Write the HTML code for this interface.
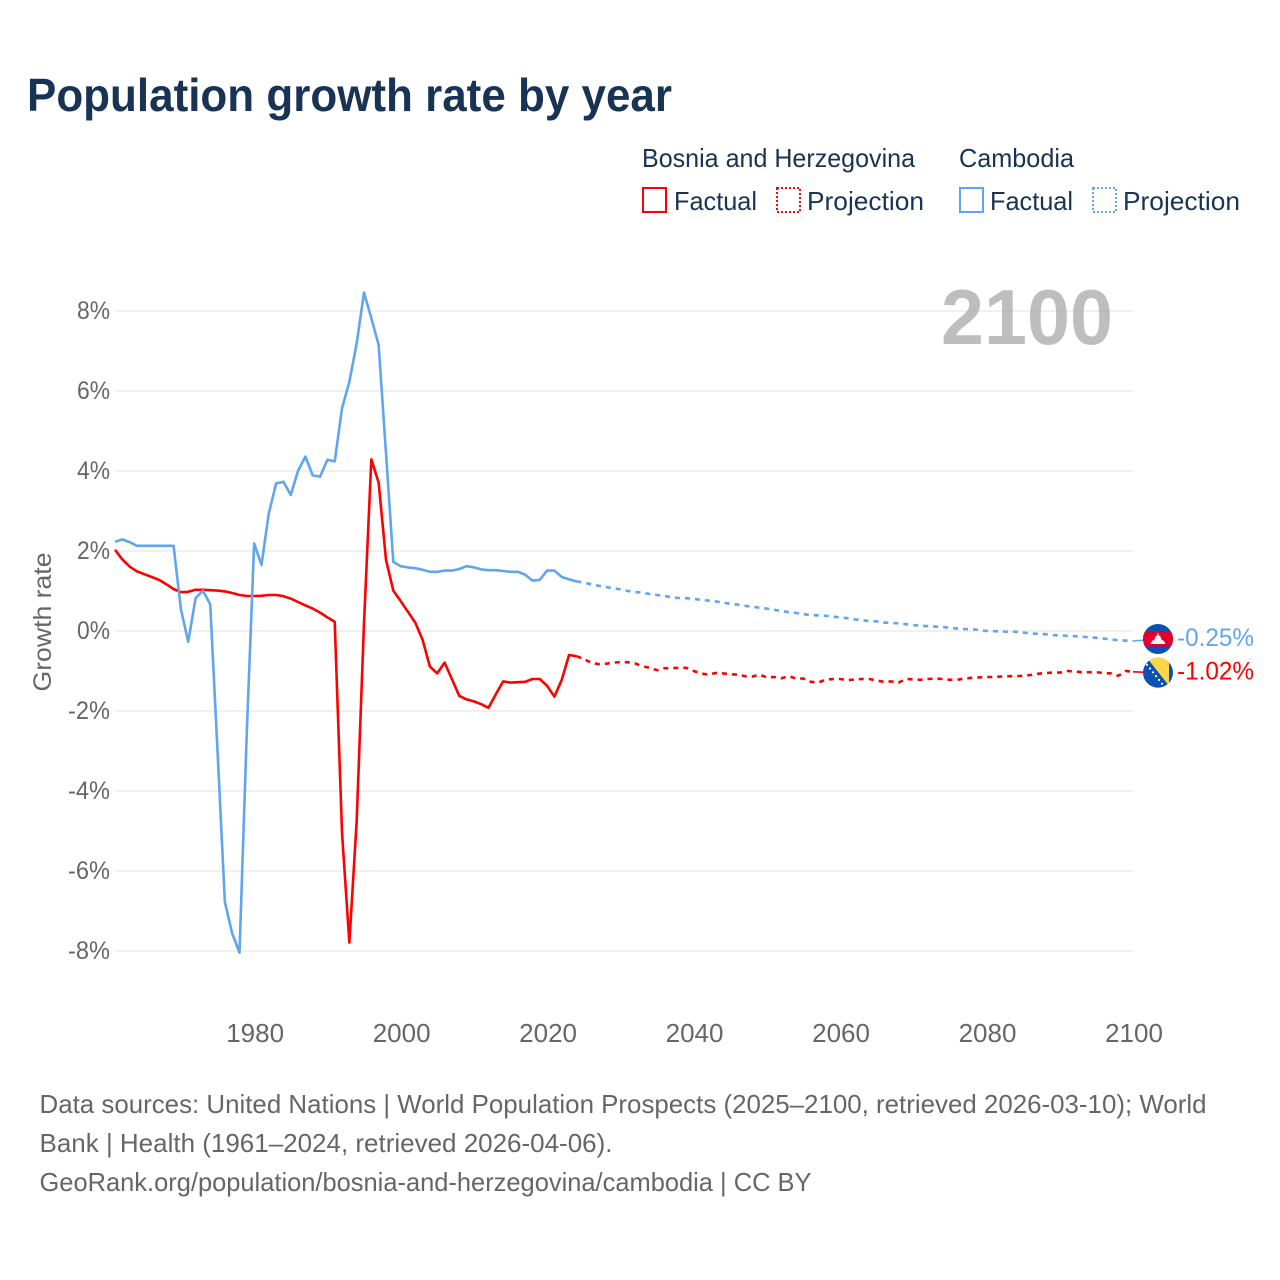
<!DOCTYPE html>
<html lang="en">
<head>
<meta charset="utf-8">
<title>Population growth rate by year</title>
<style>
html,body{margin:0;padding:0;background:#fff;}
svg{display:block;font-family:"Liberation Sans",sans-serif;}
</style>
</head>
<body>
<svg id="chart" xmlns="http://www.w3.org/2000/svg" width="1280" height="1280" viewBox="0 0 1280 1280">
  <rect x="0" y="0" width="1280" height="1280" fill="#ffffff"/>
  <text x="27" y="111" font-size="46" font-weight="700" fill="#183354" textLength="645" lengthAdjust="spacingAndGlyphs">Population growth rate by year</text>

  <g font-size="26" fill="#183354">
    <text x="642" y="167" textLength="273" lengthAdjust="spacingAndGlyphs">Bosnia and Herzegovina</text>
    <text x="959" y="167" textLength="115" lengthAdjust="spacingAndGlyphs">Cambodia</text>
    <rect x="643" y="188" width="23" height="24" fill="none" stroke="#ff0000" stroke-width="2"/>
    <text x="674" y="210" textLength="83" lengthAdjust="spacingAndGlyphs">Factual</text>
    <rect x="777" y="188" width="23" height="24" fill="none" stroke="#ff0000" stroke-width="2" stroke-dasharray="2 2"/>
    <text x="807" y="210" textLength="117" lengthAdjust="spacingAndGlyphs">Projection</text>
    <rect x="960" y="188" width="23" height="24" fill="none" stroke="#60a5ee" stroke-width="2"/>
    <text x="990" y="210" textLength="83" lengthAdjust="spacingAndGlyphs">Factual</text>
    <rect x="1093" y="188" width="23" height="24" fill="none" stroke="#60a5ee" stroke-width="2" stroke-dasharray="2 2"/>
    <text x="1123" y="210" textLength="117" lengthAdjust="spacingAndGlyphs">Projection</text>
  </g>

  <g id="grid"></g>
  <text x="941" y="344" font-size="78" font-weight="700" fill="#a8a8a8" fill-opacity="0.75" textLength="172" lengthAdjust="spacingAndGlyphs">2100</text>
  <g id="yticks" font-size="25" fill="#666666"></g>
  <g id="xticks" font-size="26" fill="#666666"></g>
  <text transform="translate(51 622) rotate(-90)" text-anchor="middle" font-size="25" fill="#666666" textLength="139" lengthAdjust="spacingAndGlyphs">Growth rate</text>

  <g id="series" fill="none" stroke-linejoin="round"></g>

  <g id="flag-cambodia">
    <clipPath id="clip-kh"><circle cx="0" cy="0" r="15"/></clipPath>
    <g clip-path="url(#clip-kh)">
      <rect x="-16" y="-16" width="32" height="32" fill="#0b50b4"/>
      <rect x="-16" y="-7.5" width="32" height="15" fill="#e0002f"/>
      <path d="M-7.5 5 L-6 2 L-3.5 0.5 L-2.5 -2.5 L-1 -3.5 L0 -6.5 L1 -3.5 L2.5 -2.5 L3.5 0.5 L6 2 L7.5 5 Z" fill="#f2f2f2"/>
    </g>
  </g>
  <g id="flag-bosnia">
    <clipPath id="clip-ba"><circle cx="0" cy="0" r="15"/></clipPath>
    <g clip-path="url(#clip-ba)">
      <rect x="-16" y="-16" width="32" height="32" fill="#0b50b4"/>
      <path d="M-12 -16 L11 -16 L11 13 Z" fill="#ffd645"/>
      <g fill="#ffffff">
        <circle cx="-11" cy="-8" r="1.1"/><circle cx="-8" cy="-4.2" r="1.1"/><circle cx="-5" cy="-0.4" r="1.1"/>
        <circle cx="-2" cy="3.4" r="1.1"/><circle cx="1" cy="7.2" r="1.1"/><circle cx="4" cy="11" r="1.1"/>
      </g>
    </g>
  </g>
  <text id="label-cambodia" x="1177" y="646" font-size="25" fill="#60a5ee" textLength="77" lengthAdjust="spacingAndGlyphs"></text>
  <text id="label-bosnia" x="1177" y="680" font-size="25" fill="#ff0000" textLength="77" lengthAdjust="spacingAndGlyphs"></text>

  <g font-size="26" fill="#666666">
    <text x="39.5" y="1113" textLength="1167" lengthAdjust="spacingAndGlyphs">Data sources: United Nations | World Population Prospects (2025–2100, retrieved 2026-03-10); World</text>
    <text x="39.5" y="1152" textLength="573" lengthAdjust="spacingAndGlyphs">Bank | Health (1961–2024, retrieved 2026-04-06).</text>
    <text x="39.5" y="1191" textLength="772" lengthAdjust="spacingAndGlyphs">GeoRank.org/population/bosnia-and-herzegovina/cambodia | CC BY</text>
  </g>
</svg>
<script>
const yTickValues = [8, 6, 4, 2, 0, -2, -4, -6, -8];
const xTickYears = [1980, 2000, 2020, 2040, 2060, 2080, 2100];
const firstFactualYear = 1961;
const firstProjectionYear = 2024;

const cambodiaFactual = [
  2.23, 2.29, 2.22, 2.13, 2.13, 2.13, 2.13, 2.13, 2.13, 0.54,
  -0.27, 0.82, 1.01, 0.67, -3.0, -6.77, -7.56, -8.04, -2.5, 2.19,
  1.65, 2.94, 3.69, 3.73, 3.4, 4.01, 4.36, 3.89, 3.86, 4.28,
  4.24, 5.57, 6.23, 7.19, 8.46, 7.82, 7.15, 4.45, 1.73, 1.62,
  1.59, 1.57, 1.53, 1.48, 1.48, 1.51, 1.51, 1.55, 1.62, 1.59,
  1.54, 1.52, 1.52, 1.5, 1.48, 1.48, 1.41, 1.26, 1.28, 1.51,
  1.51, 1.35, 1.29, 1.24
];
const cambodiaProjection = [
  1.24, 1.21, 1.17, 1.13, 1.1, 1.07, 1.04, 1.0, 0.975, 0.96,
  0.925, 0.9, 0.88, 0.84, 0.825, 0.82, 0.8, 0.78, 0.76, 0.74,
  0.71, 0.68, 0.66, 0.63, 0.61, 0.58, 0.56, 0.53, 0.5, 0.47,
  0.45, 0.42, 0.4, 0.39, 0.38, 0.36, 0.34, 0.32, 0.29, 0.27,
  0.25, 0.24, 0.21, 0.2, 0.19, 0.17, 0.15, 0.13, 0.12, 0.11,
  0.1, 0.08, 0.06, 0.05, 0.04, 0.03, 0.0, -0.005, -0.01, -0.02,
  -0.02, -0.04, -0.06, -0.07, -0.08, -0.1, -0.11, -0.12, -0.13, -0.14,
  -0.16, -0.17, -0.19, -0.21, -0.23, -0.24, -0.25
];
const bosniaFactual = [
  2.03, 1.79, 1.61, 1.49, 1.42, 1.35, 1.28, 1.17, 1.05, 0.97,
  0.98, 1.03, 1.03, 1.02, 1.01, 0.99, 0.95, 0.9, 0.875, 0.875,
  0.88, 0.9, 0.9, 0.87, 0.81, 0.725, 0.64, 0.56, 0.46, 0.34,
  0.23, -5.05, -7.79, -4.75, 0.2, 4.29, 3.71, 1.78, 1.01, 0.75,
  0.48, 0.21, -0.22, -0.89, -1.06, -0.79, -1.2, -1.62, -1.71, -1.76,
  -1.83, -1.92, -1.58, -1.26, -1.29, -1.28, -1.27, -1.2, -1.2, -1.37,
  -1.64, -1.22, -0.6, -0.63
];
const bosniaProjection = [
  -0.63, -0.7, -0.79, -0.83, -0.82, -0.79, -0.78, -0.78, -0.81, -0.88,
  -0.92, -0.98, -0.93, -0.93, -0.92, -0.92, -1.0, -1.06, -1.09, -1.05,
  -1.06, -1.08, -1.09, -1.13, -1.14, -1.09, -1.16, -1.15, -1.18, -1.13,
  -1.19, -1.19, -1.27, -1.29, -1.22, -1.2, -1.2, -1.23, -1.21, -1.2,
  -1.2, -1.24, -1.27, -1.26, -1.29, -1.2, -1.21, -1.22, -1.2, -1.19,
  -1.2, -1.22, -1.22, -1.19, -1.17, -1.16, -1.15, -1.15, -1.14, -1.13,
  -1.13, -1.12, -1.1, -1.07, -1.05, -1.04, -1.04, -1.0, -1.01, -1.03,
  -1.03, -1.03, -1.05, -1.06, -1.12, -1.0, -1.02
];

const NS = 'http://www.w3.org/2000/svg';
const xScale = year => 115 + (year - 1961) * (1133 - 115) / (2100 - 1961);
const yScale = value => 631 - value * 40;
const redColor = '#ff0000';
const blueColor = '#60a5ee';

function make(tag, parent, attrs, text) {
  const el = document.createElementNS(NS, tag);
  for (const key in attrs) el.setAttribute(key, attrs[key]);
  if (text !== undefined) el.textContent = text;
  parent.appendChild(el);
  return el;
}

const gridGroup = document.getElementById('grid');
const yTickGroup = document.getElementById('yticks');
const xTickGroup = document.getElementById('xticks');
const seriesGroup = document.getElementById('series');

yTickValues.forEach(function (v) {
  const line = make('line', gridGroup, { x1: 116, x2: 1133, y1: yScale(v), y2: yScale(v), stroke: '#ececec', 'stroke-width': 1.6 });
  
  
  const label = v + '%';
  const t = make('text', yTickGroup, { x: 110, y: yScale(v) + 8, 'text-anchor': 'end', textLength: v < 0 ? 42 : 33, lengthAdjust: 'spacingAndGlyphs' }, label);
  
  
});

xTickYears.forEach(function (yr) {
  const t = make('text', xTickGroup, { x: xScale(yr) + 1, y: 1042, 'text-anchor': 'middle' }, String(yr));
  
  
});

function linePath(values, startYear) {
  return values.map(function (v, i) {
    return (i ? 'L' : 'M') + xScale(startYear + i).toFixed(2) + ' ' + yScale(v).toFixed(2);
  }).join(' ');
}

function endPoint(values, startYear) {
  const i = values.length - 1;
  return [xScale(startYear + i), yScale(values[i])];
}

const bosniaFactualLine = make('path', seriesGroup, { d: linePath(bosniaFactual, firstFactualYear), stroke: redColor, 'stroke-width': 2.6 });



const bosniaProjectionLine = make('path', seriesGroup, { d: linePath(bosniaProjection, firstProjectionYear), stroke: redColor, 'stroke-width': 2.6, 'stroke-dasharray': '5 5' });



const cambodiaFactualLine = make('path', seriesGroup, { d: linePath(cambodiaFactual, firstFactualYear), stroke: blueColor, 'stroke-width': 2.6 });



const cambodiaProjectionLine = make('path', seriesGroup, { d: linePath(cambodiaProjection, firstProjectionYear), stroke: blueColor, 'stroke-width': 2.6, 'stroke-dasharray': '5 5' });



const flagX = 1158;
const khEnd = endPoint(cambodiaProjection, firstProjectionYear);
const baEnd = endPoint(bosniaProjection, firstProjectionYear);
const khY = khEnd[1] - 2;
const baY = baEnd[1] + 0.9;

const khConnector = make('line', seriesGroup, { x1: khEnd[0], y1: khEnd[1], x2: flagX, y2: khY, stroke: blueColor, 'stroke-width': 1.6 });



const baConnector = make('line', seriesGroup, { x1: baEnd[0], y1: baEnd[1], x2: flagX, y2: baY, stroke: redColor, 'stroke-width': 1.6 });



document.getElementById('flag-cambodia').setAttribute('transform', 'translate(' + flagX + ' ' + khY + ')');
document.getElementById('flag-bosnia').setAttribute('transform', 'translate(' + flagX + ' ' + baY + ')');

const khLabel = document.getElementById('label-cambodia');
khLabel.textContent = cambodiaProjection[cambodiaProjection.length - 1].toFixed(2) + '%';
khLabel.setAttribute('y', khY + 7);
const baLabel = document.getElementById('label-bosnia');
baLabel.textContent = bosniaProjection[bosniaProjection.length - 1].toFixed(2) + '%';
baLabel.setAttribute('y', baY + 7);
</script>
</body>
</html>
